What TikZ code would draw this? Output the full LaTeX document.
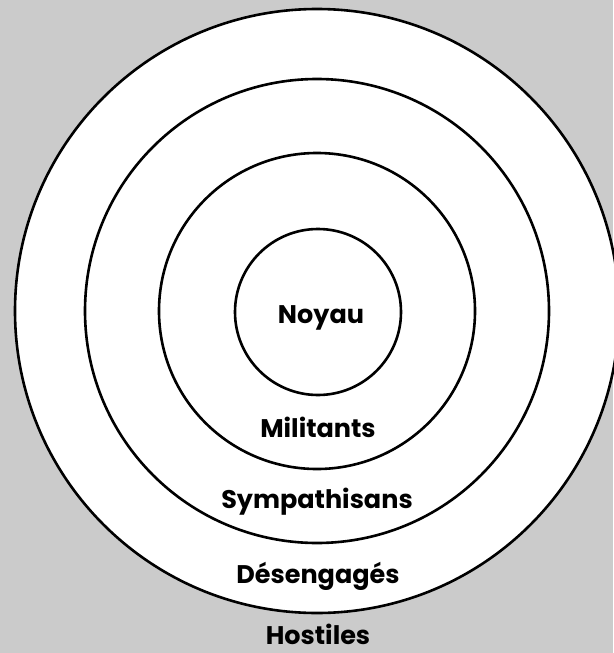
\documentclass[tikz,border=0pt]{standalone}
\usepackage{fontspec}
\setmainfont{Poppins}
\begin{document}
\begin{tikzpicture}[x=1pt,y=-1pt,
  ring/.style={circle,draw=black,line width=2.6pt,fill=white,inner sep=0pt,minimum size=#1},
  lbl/.style={anchor=base,font=\fontsize{25.5}{28}\selectfont\bfseries,inner sep=0pt}]
\fill[fill={rgb,255:red,203;green,203;blue,203}] (0,0) rectangle (613,653);
\useasboundingbox (0,0) rectangle (613,653);
\coordinate (c) at (317,311);
\node[ring=604pt] (outer) at (c) {};
\node[ring=464pt] (second) at (c) {};
\node[ring=316pt] (third) at (c) {};
\node[ring=166pt] (inner) at (318,312) {};
\node[lbl] (noyau) at (321,323) {Noyau};
\node[lbl] (mil) at (318,437) {Militants};
\node[lbl] (sym) at (317,508) {Sympathisans};
\node[lbl] (des) at (318,583) {Désengagés};
\node[lbl] (host) at (318,644) {Hostiles};
\end{tikzpicture}
\end{document}
